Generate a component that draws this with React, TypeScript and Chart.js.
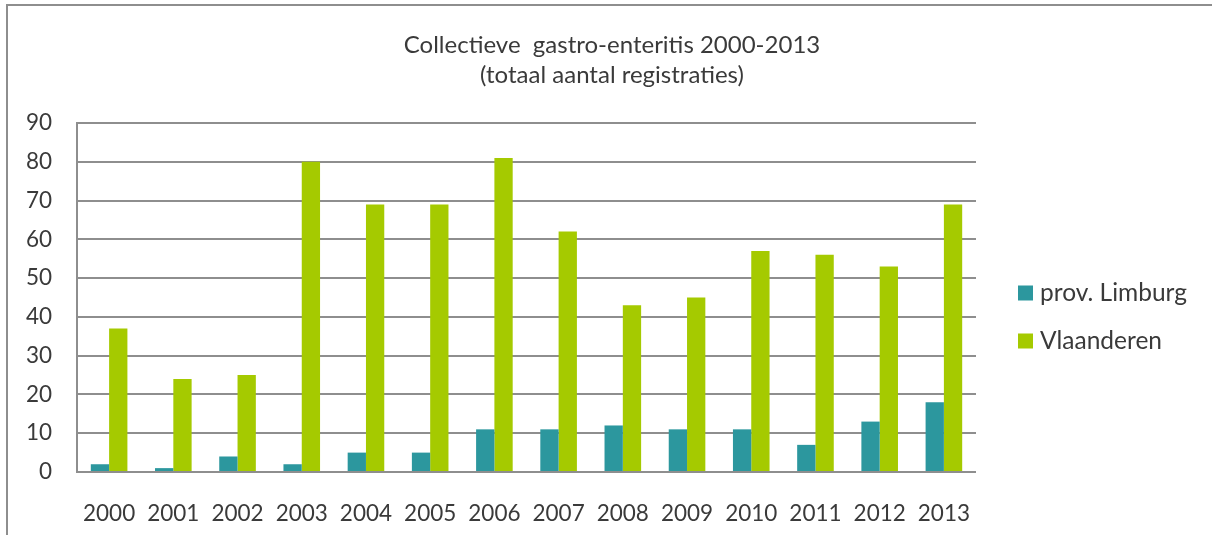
import React, { useEffect, useRef } from "react";
import { Chart, registerables } from "chart.js";

Chart.register(...registerables);

const categories = ["2000", "2001", "2002", "2003", "2004", "2005", "2006", "2007", "2008", "2009", "2010", "2011", "2012", "2013"];
const limburg = [2, 1, 4, 2, 5, 5, 11, 11, 12, 11, 11, 7, 13, 18];
const vlaanderen = [37, 24, 25, 80, 69, 69, 81, 62, 43, 45, 57, 56, 53, 69];
const seriesLabels = ["prov. Limburg", "Vlaanderen"];
const seriesColors = ["#2C979E", "#A5CA00"];
const titleLines = ["Collectieve  gastro-enteritis 2000-2013", "(totaal aantal registraties)"];
const yMin = 0;
const yMax = 90;
const yStep = 10;

const FONT = "Lato";
const TEXT = "#3a3a3a";
const GRID = "#8e8e8e";

const sideLegend = {
  id: "sideLegend",
  afterDraw(chart: any) {
    const { ctx, chartArea } = chart;
    ctx.save();
    ctx.font = `24.5px ${FONT}`;
    ctx.textBaseline = "middle";
    ctx.textAlign = "left";
    chart.data.datasets.forEach((ds: any, i: number) => {
      const x = chartArea.right + 42;
      const y = chartArea.top + 170 + i * 48;
      ctx.fillStyle = ds.backgroundColor;
      ctx.fillRect(x, y - 7.5, 15, 15);
      ctx.fillStyle = TEXT;
      ctx.fillText(ds.label, x + 22, y);
    });
    ctx.restore();
  },
};

export default function App() {
  const ref = useRef<HTMLCanvasElement | null>(null);

  useEffect(() => {
    document.body.style.margin = "0";
    if (!ref.current) return;
    const chart = new Chart(ref.current, {
      type: "bar",
      data: {
        labels: categories,
        datasets: [
          { label: seriesLabels[0], data: limburg, backgroundColor: seriesColors[0], borderWidth: 0 },
          { label: seriesLabels[1], data: vlaanderen, backgroundColor: seriesColors[1], borderWidth: 0 },
        ],
      },
      options: {
        responsive: false,
        animation: false,
        devicePixelRatio: 1,
        layout: { padding: { left: 12, right: 0, top: 0, bottom: 0 } },
        datasets: { bar: { categoryPercentage: 0.57, barPercentage: 1 } },
        plugins: {
          legend: { display: false },
          tooltip: { enabled: false },
          title: {
            display: true,
            text: titleLines,
            color: TEXT,
            font: { family: FONT, size: 24, weight: "normal", lineHeight: 1.25 },
            padding: { top: 30, bottom: 33 },
          },
        },
        scales: {
          x: {
            grid: { display: false },
            border: { display: false },
            ticks: { color: TEXT, font: { family: FONT, size: 22.5 }, padding: 20, maxRotation: 0, autoSkip: false },
            afterFit: (s: any) => { s.height = 63; },
          },
          y: {
            min: yMin,
            max: yMax,
            ticks: { stepSize: yStep, color: TEXT, font: { family: FONT, size: 22.5 }, padding: 25 },
            grid: { color: GRID, lineWidth: 2, drawTicks: false },
            border: { display: true, color: GRID, width: 2 },
            afterFit: (s: any) => { s.width = 65; },
          },
          legendSpace: {
            type: "linear",
            position: "right",
            display: true,
            grid: { display: false, drawTicks: false },
            border: { display: false },
            ticks: { display: false },
            afterFit: (s: any) => { s.width = 236; },
          },
        },
      },
      plugins: [sideLegend],
    });
    return () => chart.destroy();
  }, []);

  return (
    <div style={{ position: "relative", width: 1212, height: 535, overflow: "hidden", background: "#fff" }}>
      <div style={{ position: "absolute", left: 6, top: 4, width: 1400, height: 800, border: `2px solid ${GRID}` }} />
      <canvas ref={ref} width={1212} height={535} style={{ position: "absolute", left: 0, top: 0 }} />
    </div>
  );
}
